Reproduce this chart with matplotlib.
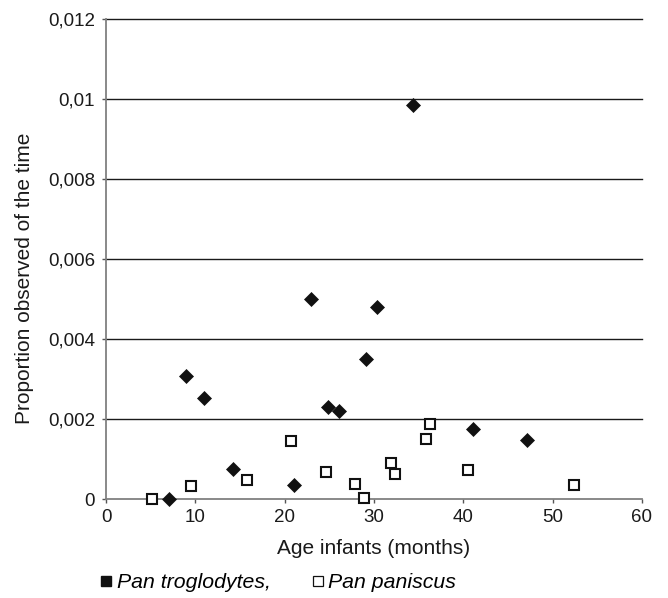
import matplotlib
matplotlib.use("Agg")
import matplotlib.pyplot as plt
from matplotlib.lines import Line2D

plt.rcParams['font.family'] = ['Liberation Sans', 'DejaVu Sans']

# Pan troglodytes (filled diamonds)
trog_age = [7.1, 9.0, 11.0, 14.2, 21.1, 23.0, 24.9, 26.1, 29.1, 30.35, 34.4, 41.05, 47.1]
trog_prop = [0.0, 0.00307, 0.00253, 0.00074, 0.00034, 0.00501, 0.00229, 0.0022,
             0.0035, 0.00481, 0.00986, 0.00176, 0.00147]

# Pan paniscus (open squares)
pan_age = [5.2, 9.5, 15.8, 20.7, 24.6, 27.85, 28.9, 31.95, 32.35, 35.8, 36.25, 40.55, 52.4]
pan_prop = [0.0, 0.00033, 0.00048, 0.00144, 0.00067, 0.00037, 0.00003, 0.00091,
            0.00063, 0.00149, 0.00188, 0.00072, 0.00036]

x_ticks = [0, 10, 20, 30, 40, 50, 60]
y_ticks = [0, 0.002, 0.004, 0.006, 0.008, 0.01, 0.012]
y_tick_labels = ['0', '0,002', '0,004', '0,006', '0,008', '0,01', '0,012']

fig = plt.figure(figsize=(6.68, 5.98), dpi=100)
ax = fig.add_axes([106 / 668, 1 - 499 / 598, 536 / 668, 480 / 598])

ax.set_xlim(0, 60)
ax.set_ylim(0, 0.012)
ax.set_xticks(x_ticks)
ax.set_yticks(y_ticks)
ax.set_yticklabels(y_tick_labels)

# horizontal gridlines
for yv in y_ticks[1:]:
    ax.axhline(yv, color='#1a1a1a', lw=1.0, zorder=1, clip_on=False)

for s in ['top', 'right']:
    ax.spines[s].set_visible(False)
for s in ['left', 'bottom']:
    ax.spines[s].set_color('#808080')
    ax.spines[s].set_linewidth(1.3)
    ax.spines[s].set_zorder(2)

ax.tick_params(axis='both', direction='out', length=3, width=1, color='#555555',
               labelsize=13.5, labelcolor='#1a1a1a')
ax.tick_params(axis='x', pad=4.5)
ax.tick_params(axis='y', pad=4.8)

ax.plot(trog_age, trog_prop, linestyle='none', marker='D', ms=7.0,
        mfc='#111111', mec='#111111', mew=0.5, zorder=4, clip_on=False)
ax.plot(pan_age, pan_prop, linestyle='none', marker='s', ms=6.8,
        mfc='white', mec='#111111', mew=1.5, zorder=4, clip_on=False)

ax.set_xlabel('Age infants (months)', fontsize=15, color='#1a1a1a')
ax.set_ylabel('Proportion observed of the time', fontsize=15, color='#1a1a1a')
ax.xaxis.set_label_coords(0.5, -0.083)
ax.yaxis.set_label_coords(-0.134, 0.459)

handles = [
    Line2D([], [], linestyle='none', marker='s', ms=6.5, mfc='#111111', mec='#111111'),
    Line2D([], [], linestyle='none', marker='s', ms=6.5, mfc='white', mec='#111111', mew=0.9),
]
fig.legend(handles, ['Pan troglodytes,', 'Pan paniscus'], loc='center left',
           bbox_to_anchor=(101 / 668, 1 - 583 / 598), bbox_transform=fig.transFigure,
           ncol=2, frameon=False, borderpad=0, borderaxespad=0,
           handlelength=0.5, handletextpad=0.25, columnspacing=1.95,
           prop={'size': 15.3, 'style': 'italic'})

plt.savefig('out.png', dpi=100)
plt.close()
